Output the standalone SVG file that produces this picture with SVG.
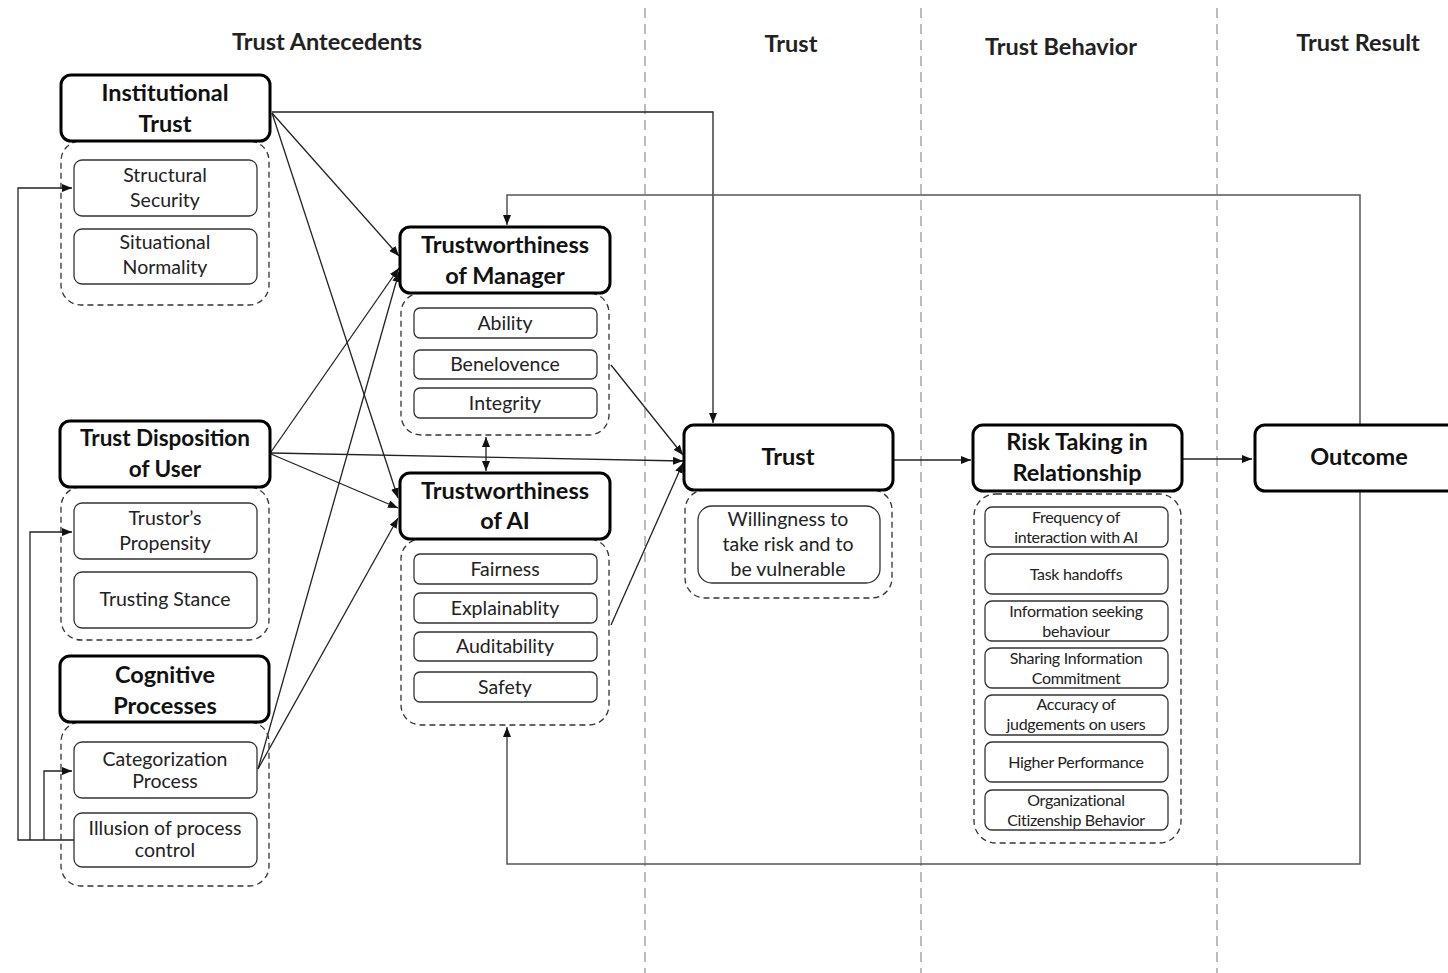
<svg xmlns="http://www.w3.org/2000/svg" width="1448" height="973" viewBox="0 0 1448 973">
<style>
.hdr{font-family:Lato,"Open Sans",sans-serif;font-weight:bold;font-size:23.5px;fill:#222;text-anchor:middle}
.main{fill:#fff;stroke:#000;stroke-width:3}
.t{font-family:Lato,"Open Sans",sans-serif;font-weight:bold;font-size:23.5px;text-anchor:middle;fill:#111}
.t2{font-size:22.5px}
.grp{fill:none;stroke:#333;stroke-width:1.3;stroke-dasharray:6 4}
.sub{fill:#fff;stroke:#333;stroke-width:1.3}
.s{font-family:Lato,"Open Sans",sans-serif;font-size:19.5px;text-anchor:middle;fill:#222}
.xs{font-size:16px;letter-spacing:-0.3px}
.sep{stroke:#bbb;stroke-width:2;stroke-dasharray:10 6}
.c{fill:none;stroke:#222;stroke-width:1.3}
.fb{fill:none;stroke:#555;stroke-width:1.5}
</style>
<defs>
<marker id="ah" viewBox="0 0 10 8" refX="10" refY="4" markerWidth="10" markerHeight="8" markerUnits="userSpaceOnUse" orient="auto-start-reverse"><path d="M0,0 L10,4 L0,8 z" fill="#111"/></marker>
</defs>
<rect width="1448" height="973" fill="#fff"/>
<g id="separators">
<line class="sep" x1="645" y1="8" x2="645" y2="973"/>
<line class="sep" x1="921" y1="8" x2="921" y2="973"/>
<line class="sep" x1="1217" y1="8" x2="1217" y2="973"/>
</g>
<g id="headers">
<text class="hdr" x="327" y="50">Trust Antecedents</text>
<text class="hdr" x="791" y="52">Trust</text>
<text class="hdr" x="1061" y="55">Trust Behavior</text>
<text class="hdr" x="1358" y="51">Trust Result</text>
</g>
<g id="connectors">
<path class="c" d="M272,112 H713 V423" marker-end="url(#ah)"/>
<path class="c" d="M272,113 L399,256" marker-end="url(#ah)"/>
<path class="c" d="M272,113 L398,498" marker-end="url(#ah)"/>
<path class="c" d="M271,452 L399,268" marker-end="url(#ah)"/>
<path class="c" d="M271,453 L683,461" marker-end="url(#ah)"/>
<path class="c" d="M271,454 L398,508" marker-end="url(#ah)"/>
<path class="c" d="M258,769 L399,272" marker-end="url(#ah)"/>
<path class="c" d="M258,769 L398,518" marker-end="url(#ah)"/>
<path class="c" d="M611,365 L683,455" marker-end="url(#ah)"/>
<path class="c" d="M611,625 L683,463" marker-end="url(#ah)"/>
<path class="c" d="M486,437 V471" marker-start="url(#ah)" marker-end="url(#ah)"/>
<path class="c" d="M894,460 H971" marker-end="url(#ah)"/>
<path class="c" d="M1183,459 H1252" marker-end="url(#ah)"/>
<path class="fb" d="M1360,425 V195 H507 V225" marker-end="url(#ah)"/>
<path class="fb" d="M1360,491 V864 H507 V727" marker-end="url(#ah)"/>
<path class="c" d="M74,840 H18 V188 H72" marker-end="url(#ah)"/>
<path class="c" d="M30,840 V532 H72" marker-end="url(#ah)"/>
<path class="c" d="M44,840 V771 H72" marker-end="url(#ah)"/>
</g>
<g id="institutional-trust">
<rect class="grp" x="61" y="141" width="208" height="164" rx="20"/>
<rect class="main" x="61" y="75" width="209" height="66" rx="10"/>
<text class="t" x="165" y="101">Institutional</text>
<text class="t" x="165" y="132">Trust</text>
<rect class="sub" x="74" y="160" width="183" height="56" rx="8"/>
<text class="s" x="165" y="182">Structural</text>
<text class="s" x="165" y="207">Security</text>
<rect class="sub" x="74" y="229" width="183" height="55" rx="8"/>
<text class="s" x="165" y="249">Situational</text>
<text class="s" x="165" y="274">Normality</text>
</g>
<g id="trust-disposition">
<rect class="grp" x="61" y="487" width="208" height="153" rx="20"/>
<rect class="main" x="60" y="421" width="210" height="66" rx="10"/>
<text class="t t2" x="165" y="446">Trust Disposition</text>
<text class="t t2" x="165" y="477">of User</text>
<rect class="sub" x="74" y="503" width="183" height="56" rx="8"/>
<text class="s" x="165" y="525">Trustor’s</text>
<text class="s" x="165" y="550">Propensity</text>
<rect class="sub" x="74" y="572" width="183" height="56" rx="8"/>
<text class="s" x="165" y="606">Trusting Stance</text>
</g>
<g id="cognitive-processes">
<rect class="grp" x="61" y="722" width="208" height="164" rx="20"/>
<rect class="main" x="60" y="656" width="209" height="66" rx="10"/>
<text class="t" x="165" y="683">Cognitive</text>
<text class="t" x="165" y="714">Processes</text>
<rect class="sub" x="74" y="742" width="183" height="56" rx="8"/>
<text class="s" x="165" y="766">Categorization</text>
<text class="s" x="165" y="788">Process</text>
<rect class="sub" x="74" y="813" width="183" height="54" rx="8"/>
<text class="s" x="165" y="835">Illusion  of process</text>
<text class="s" x="165" y="857">control</text>
</g>
<g id="trustworthiness-manager">
<rect class="grp" x="401" y="293" width="208" height="142" rx="20"/>
<rect class="main" x="400" y="227" width="210" height="66" rx="10"/>
<text class="t" x="505" y="253">Trustworthiness</text>
<text class="t" x="505" y="284">of Manager</text>
<rect class="sub" x="414" y="308" width="183" height="30" rx="6"/>
<text class="s" x="505" y="330">Ability</text>
<rect class="sub" x="414" y="350" width="183" height="29" rx="6"/>
<text class="s" x="505" y="371">Benelovence</text>
<rect class="sub" x="414" y="388" width="183" height="30" rx="6"/>
<text class="s" x="505" y="410">Integrity</text>
</g>
<g id="trustworthiness-ai">
<rect class="grp" x="401" y="539" width="208" height="186" rx="20"/>
<rect class="main" x="400" y="473" width="210" height="66" rx="10"/>
<text class="t" x="505" y="499">Trustworthiness</text>
<text class="t" x="505" y="529">of AI</text>
<rect class="sub" x="414" y="554" width="183" height="30" rx="6"/>
<text class="s" x="505" y="576">Fairness</text>
<rect class="sub" x="414" y="593" width="183" height="30" rx="6"/>
<text class="s" x="505" y="615">Explainablity</text>
<rect class="sub" x="414" y="632" width="183" height="29" rx="6"/>
<text class="s" x="505" y="653">Auditability</text>
<rect class="sub" x="414" y="672" width="183" height="30" rx="6"/>
<text class="s" x="505" y="694">Safety</text>
</g>
<g id="trust">
<rect class="grp" x="685" y="490" width="207" height="108" rx="20"/>
<rect class="main" x="684" y="425" width="209" height="65" rx="10"/>
<text class="t" x="788" y="465">Trust</text>
<rect class="sub" x="698" y="506" width="182" height="77" rx="14"/>
<text class="s" x="788" y="526">Willingness to</text>
<text class="s" x="788" y="551">take risk and to</text>
<text class="s" x="788" y="576">be vulnerable</text>
</g>
<g id="risk-taking">
<rect class="grp" x="974" y="494" width="207" height="349" rx="22"/>
<rect class="main" x="973" y="425" width="209" height="66" rx="10"/>
<text class="t" x="1077" y="450">Risk Taking in</text>
<text class="t" x="1077" y="481">Relationship</text>
<rect class="sub" x="985" y="507" width="183" height="40" rx="7"/>
<text class="s xs" x="1076" y="523">Frequency of</text>
<text class="s xs" x="1076" y="543">interaction with AI</text>
<rect class="sub" x="985" y="554" width="183" height="40" rx="7"/>
<text class="s xs" x="1076" y="580">Task handoffs</text>
<rect class="sub" x="985" y="601" width="183" height="40" rx="7"/>
<text class="s xs" x="1076" y="617">Information seeking</text>
<text class="s xs" x="1076" y="637">behaviour</text>
<rect class="sub" x="985" y="648" width="183" height="40" rx="7"/>
<text class="s xs" x="1076" y="664">Sharing Information</text>
<text class="s xs" x="1076" y="684">Commitment</text>
<rect class="sub" x="985" y="695" width="183" height="40" rx="7"/>
<text class="s xs" x="1076" y="710">Accuracy of</text>
<text class="s xs" x="1076" y="730">judgements on users</text>
<rect class="sub" x="985" y="742" width="183" height="40" rx="7"/>
<text class="s xs" x="1076" y="768">Higher Performance</text>
<rect class="sub" x="985" y="790" width="183" height="40" rx="7"/>
<text class="s xs" x="1076" y="806">Organizational</text>
<text class="s xs" x="1076" y="826">Citizenship Behavior</text>
</g>
<g id="outcome">
<rect class="main" x="1255" y="425" width="212" height="66" rx="10"/>
<text class="t" x="1359" y="465">Outcome</text>
</g>
</svg>
